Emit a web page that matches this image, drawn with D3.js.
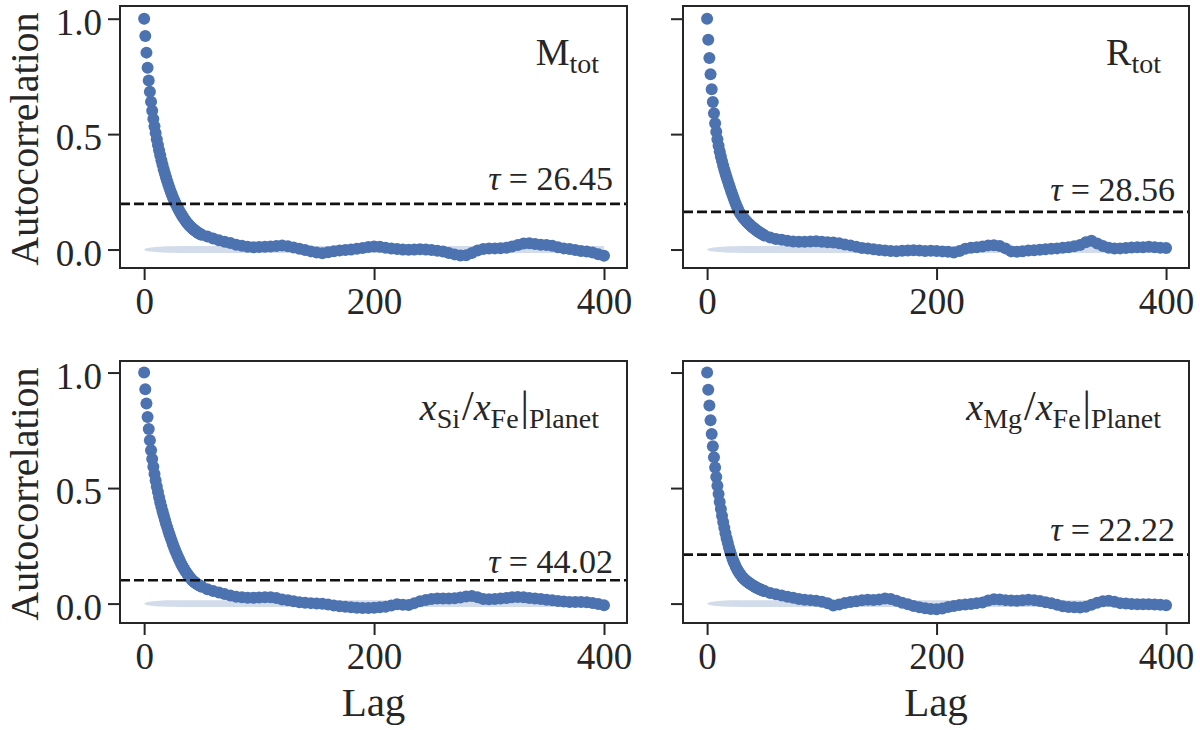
<!DOCTYPE html>
<html>
<head>
<meta charset="utf-8">
<script src="https://cdn.jsdelivr.net/npm/d3@7"></script>
<style>
  html, body { margin: 0; padding: 0; background: #fff; }
  svg { display: block; }
</style>
</head>
<body>
<div id="acf-chart"></div>
<script>
// lags that carry a dot: every lag up to 50, then every fifth lag
const lags = [0, 1, 2, 3, 4, 5, 6, 7, 8, 9, 10, 11, 12, 13, 14, 15, 16, 17, 18, 19,
  20, 21, 22, 23, 24, 25, 26, 27, 28, 29, 30, 31, 32, 33, 34, 35, 36, 37, 38, 39,
  40, 41, 42, 43, 44, 45, 46, 47, 48, 49, 50, 55, 60, 65, 70, 75, 80, 85, 90, 95,
  100, 105, 110, 115, 120, 125, 130, 135, 140, 145, 150, 155, 160, 165, 170, 175,
  180, 185, 190, 195, 200, 205, 210, 215, 220, 225, 230, 235, 240, 245, 250, 255,
  260, 265, 270, 275, 280, 285, 290, 295, 300, 305, 310, 315, 320, 325, 330, 335,
  340, 345, 350, 355, 360, 365, 370, 375, 380, 385, 390, 395, 400]

const acfMtot = [1.000, 0.925, 0.853, 0.788, 0.732, 0.684, 0.640, 0.601, 0.566, 0.534,
  0.505, 0.478, 0.453, 0.430, 0.408, 0.387, 0.367, 0.348, 0.330, 0.313,
  0.297, 0.282, 0.267, 0.253, 0.240, 0.227, 0.215, 0.204, 0.193, 0.183,
  0.173, 0.164, 0.155, 0.147, 0.139, 0.132, 0.125, 0.118, 0.112, 0.106,
  0.101, 0.096, 0.091, 0.087, 0.083, 0.079, 0.076, 0.072, 0.069, 0.066, 0.064,
  0.056, 0.048, 0.040, 0.034, 0.028, 0.021, 0.016, 0.012, 0.010, 0.011,
  0.012, 0.013, 0.015, 0.017, 0.014, 0.009, 0.003, -0.002, -0.008, -0.013,
  -0.016, -0.012, -0.007, -0.004, -0.002, 0.000, 0.003, 0.007, 0.011, 0.013,
  0.012, 0.008, 0.004, 0.002, 0.000, -0.001, 0.000, 0.001, 0.000, -0.002,
  -0.005, -0.009, -0.015, -0.021, -0.026, -0.025, -0.015, -0.004, 0.002, 0.004,
  0.005, 0.006, 0.008, 0.013, 0.020, 0.026, 0.027, 0.024, 0.021, 0.020,
  0.016, 0.010, 0.005, 0.002, -0.002, -0.006, -0.009, -0.013, -0.020, -0.027]

const acfRtot = [1.000, 0.909, 0.830, 0.759, 0.694, 0.639, 0.590, 0.547, 0.510, 0.478,
  0.450, 0.425, 0.403, 0.383, 0.364, 0.346, 0.329, 0.313, 0.297, 0.282,
  0.268, 0.253, 0.238, 0.224, 0.210, 0.197, 0.185, 0.174, 0.163, 0.155,
  0.148, 0.141, 0.135, 0.129, 0.124, 0.118, 0.113, 0.108, 0.103, 0.099,
  0.095, 0.091, 0.087, 0.083, 0.080, 0.076, 0.073, 0.070, 0.067, 0.064, 0.061,
  0.052, 0.046, 0.042, 0.038, 0.035, 0.034, 0.034, 0.035, 0.036, 0.034,
  0.032, 0.030, 0.027, 0.022, 0.018, 0.012, 0.007, 0.004, 0.001, -0.002,
  -0.004, -0.006, -0.007, -0.005, -0.004, -0.003, -0.004, -0.006, -0.005, -0.006,
  -0.008, -0.010, -0.013, -0.006, 0.003, 0.008, 0.010, 0.013, 0.018, 0.019,
  0.015, 0.005, -0.008, -0.010, -0.007, -0.004, -0.003, -0.001, 0.001, 0.003,
  0.005, 0.008, 0.010, 0.014, 0.020, 0.032, 0.038, 0.026, 0.015, 0.008,
  0.004, 0.005, 0.007, 0.009, 0.010, 0.010, 0.012, 0.010, 0.008, 0.007]

const acfSiFe = [1.000, 0.928, 0.866, 0.808, 0.756, 0.707, 0.664, 0.626, 0.592, 0.561,
  0.533, 0.507, 0.483, 0.460, 0.439, 0.419, 0.400, 0.382, 0.364, 0.347,
  0.331, 0.315, 0.300, 0.285, 0.271, 0.257, 0.244, 0.231, 0.219, 0.207,
  0.196, 0.185, 0.175, 0.165, 0.156, 0.148, 0.140, 0.132, 0.125, 0.118,
  0.112, 0.106, 0.101, 0.096, 0.092, 0.088, 0.085, 0.082, 0.079, 0.076, 0.073,
  0.062, 0.054, 0.048, 0.041, 0.035, 0.030, 0.027, 0.025, 0.025, 0.026,
  0.027, 0.027, 0.024, 0.018, 0.014, 0.010, 0.006, 0.004, 0.002, 0.000,
  -0.001, -0.004, -0.008, -0.011, -0.014, -0.016, -0.018, -0.019, -0.019, -0.018,
  -0.016, -0.014, -0.008, -0.003, -0.005, -0.006, 0.002, 0.010, 0.016, 0.020,
  0.022, 0.022, 0.022, 0.023, 0.026, 0.031, 0.033, 0.027, 0.020, 0.019,
  0.020, 0.022, 0.024, 0.027, 0.029, 0.027, 0.024, 0.022, 0.020, 0.017,
  0.014, 0.011, 0.009, 0.007, 0.007, 0.007, 0.006, 0.003, -0.002, -0.007]

const acfMgFe = [1.000, 0.926, 0.857, 0.794, 0.734, 0.681, 0.633, 0.589, 0.548, 0.510,
  0.474, 0.440, 0.409, 0.380, 0.353, 0.328, 0.305, 0.283, 0.263, 0.244,
  0.227, 0.211, 0.196, 0.183, 0.171, 0.160, 0.150, 0.141, 0.133, 0.126,
  0.119, 0.113, 0.108, 0.103, 0.099, 0.095, 0.091, 0.088, 0.084, 0.081,
  0.078, 0.075, 0.072, 0.069, 0.067, 0.064, 0.062, 0.060, 0.058, 0.056, 0.054,
  0.046, 0.040, 0.035, 0.030, 0.025, 0.020, 0.017, 0.015, 0.012, 0.008,
  0.001, -0.008, -0.004, 0.003, 0.007, 0.010, 0.014, 0.017, 0.016, 0.018,
  0.022, 0.020, 0.012, 0.004, -0.003, -0.010, -0.016, -0.020, -0.023, -0.025,
  -0.021, -0.015, -0.010, -0.006, -0.004, -0.002, 0.002, 0.005, 0.013, 0.019,
  0.018, 0.015, 0.013, 0.012, 0.014, 0.017, 0.015, 0.011, 0.006, 0.001,
  -0.005, -0.012, -0.015, -0.016, -0.017, -0.014, -0.005, 0.004, 0.010, 0.012,
  0.008, 0.002, 0.000, -0.002, -0.003, -0.003, -0.003, -0.004, -0.005, -0.007]

// dashed reference level and the tau written above it, per panel
const tauValues = ['26.45', '28.56', '44.02', '22.22']
const tauLevels = [0.198, 0.163, 0.101, 0.212]

// light confidence band around zero
const bandLags = [0, 1, 3, 6, 10, 16, 24, 40, 400]
const bandHalf = [0, 0.004, 0.007, 0.009, 0.011, 0.013, 0.014, 0.015, 0.015]

const xTicks = [0, 200, 400]
const yTicks = [0, 0.5, 1.0]

// panel titles as runs of roman / italic / subscript text
const panelTitles = [
  [{ t: 'M' }, { t: 'tot', sub: true }],
  [{ t: 'R' }, { t: 'tot', sub: true }],
  [{ t: 'x', it: true }, { t: 'Si', sub: true }, { t: '/', big: true }, { t: 'x', it: true },
    { t: 'Fe', sub: true }, { t: '|', big: true }, { t: 'Planet', sub: true }],
  [{ t: 'x', it: true }, { t: 'Mg', sub: true }, { t: '/', big: true }, { t: 'x', it: true },
    { t: 'Fe', sub: true }, { t: '|', big: true }, { t: 'Planet', sub: true }]
]

const blue = '#4C72B0'
const ink = '#262626'
const serif = '"Liberation Serif", "DejaVu Serif", serif'

const width = 1200
const height = 730
const colLeft = [120, 683]
const colRight = [627, 1189]
const rowTop = [6, 361]
const rowBottom = [268, 623]
const yDomains = [[-0.08, 1.055], [-0.084, 1.05]]
const tauGap = [14, 11, 7, 14]

const svg = d3.select('#acf-chart').append('svg')
  .attr('width', width)
  .attr('height', height)
  .style('font-family', serif)

const styleAxis = (g, showLabels) => {
  g.select('.domain').remove()
  g.attr('font-family', null).attr('font-size', null)
  g.selectAll('.tick line').attr('stroke', ink).attr('stroke-width', 2)
  g.selectAll('.tick text')
    .attr('fill', ink)
    .style('font-size', '37px')
    .style('font-family', serif)
  if (!showLabels) g.selectAll('.tick text').remove()
}

const acfPanel = (i, values) => {
  const col = i % 2
  const row = Math.floor(i / 2)
  const left = colLeft[col]
  const right = colRight[col]
  const top = rowTop[row]
  const bottom = rowBottom[row]

  const x = d3.scaleLinear().domain([-21, 420]).range([left, right])
  const y = d3.scaleLinear().domain(yDomains[row]).range([bottom, top])

  const g = svg.append('g')

  const band = d3.area()
    .x(d => x(d))
    .y0((d, k) => y(-bandHalf[k]))
    .y1((d, k) => y(bandHalf[k]))
    .curve(d3.curveMonotoneX)

  g.append('path')
    .datum(bandLags)
    .attr('d', band)
    .attr('fill', blue)
    .attr('fill-opacity', 0.25)

  g.append('g')
    .selectAll('circle')
    .data(lags.map((lag, k) => ({ lag, v: values[k] })))
    .join('circle')
    .attr('cx', d => x(d.lag))
    .attr('cy', d => y(d.v))
    .attr('r', 6)
    .attr('fill', blue)

  g.append('line')
    .attr('x1', left)
    .attr('x2', right)
    .attr('y1', y(tauLevels[i]))
    .attr('y2', y(tauLevels[i]))
    .attr('stroke', '#111')
    .attr('stroke-width', 2.6)
    .attr('stroke-dasharray', '10,4')

  const tau = g.append('text')
    .attr('x', right - 14)
    .attr('y', y(tauLevels[i]) - tauGap[i])
    .attr('text-anchor', 'end')
    .attr('fill', ink)
    .style('font-size', '34px')
  tau.append('tspan').style('font-style', 'italic').text('τ')
  tau.append('tspan').text(' = ' + tauValues[i])

  const title = g.append('text')
    .attr('x', right - 28)
    .attr('y', top + 59)
    .attr('text-anchor', 'end')
    .attr('fill', ink)
    .style('font-size', '38px')
  let shift = 0
  panelTitles[i].forEach(s => {
    const target = s.sub ? 8 : 0
    title.append('tspan')
      .attr('dy', target - shift)
      .attr('dx', s.big ? 2 : 0)
      .style('font-size', s.sub ? '28px' : s.big ? '42px' : null)
      .style('font-style', s.it ? 'italic' : null)
      .text(s.t)
    shift = target
  })

  g.append('g')
    .attr('transform', `translate(0,${bottom})`)
    .call(d3.axisBottom(x).tickValues(xTicks).tickSize(12).tickPadding(8).tickFormat(d3.format('d')))
    .call(a => styleAxis(a, true))

  g.append('g')
    .attr('transform', `translate(${left},0)`)
    .call(d3.axisLeft(y).tickValues(yTicks).tickSize(12).tickPadding(6).tickFormat(d3.format('.1f')))
    .call(a => styleAxis(a, col === 0))
    .call(a => a.selectAll('.tick text').attr('dy', '0.42em'))

  g.append('rect')
    .attr('x', left)
    .attr('y', top)
    .attr('width', right - left)
    .attr('height', bottom - top)
    .attr('fill', 'none')
    .attr('stroke', ink)
    .attr('stroke-width', 2)

  if (col === 0) {
    svg.append('text')
      .attr('transform', `translate(38,${(top + bottom) / 2 + 2}) rotate(-90)`)
      .attr('text-anchor', 'middle')
      .attr('fill', ink)
      .style('font-size', '40px')
      .text('Autocorrelation')
  }
  if (row === 1) {
    svg.append('text')
      .attr('x', (left + right) / 2)
      .attr('y', 716)
      .attr('text-anchor', 'middle')
      .attr('fill', ink)
      .style('font-size', '41px')
      .text('Lag')
  }
}

;[acfMtot, acfRtot, acfSiFe, acfMgFe].forEach((values, i) => acfPanel(i, values))
</script>
</body>
</html>
